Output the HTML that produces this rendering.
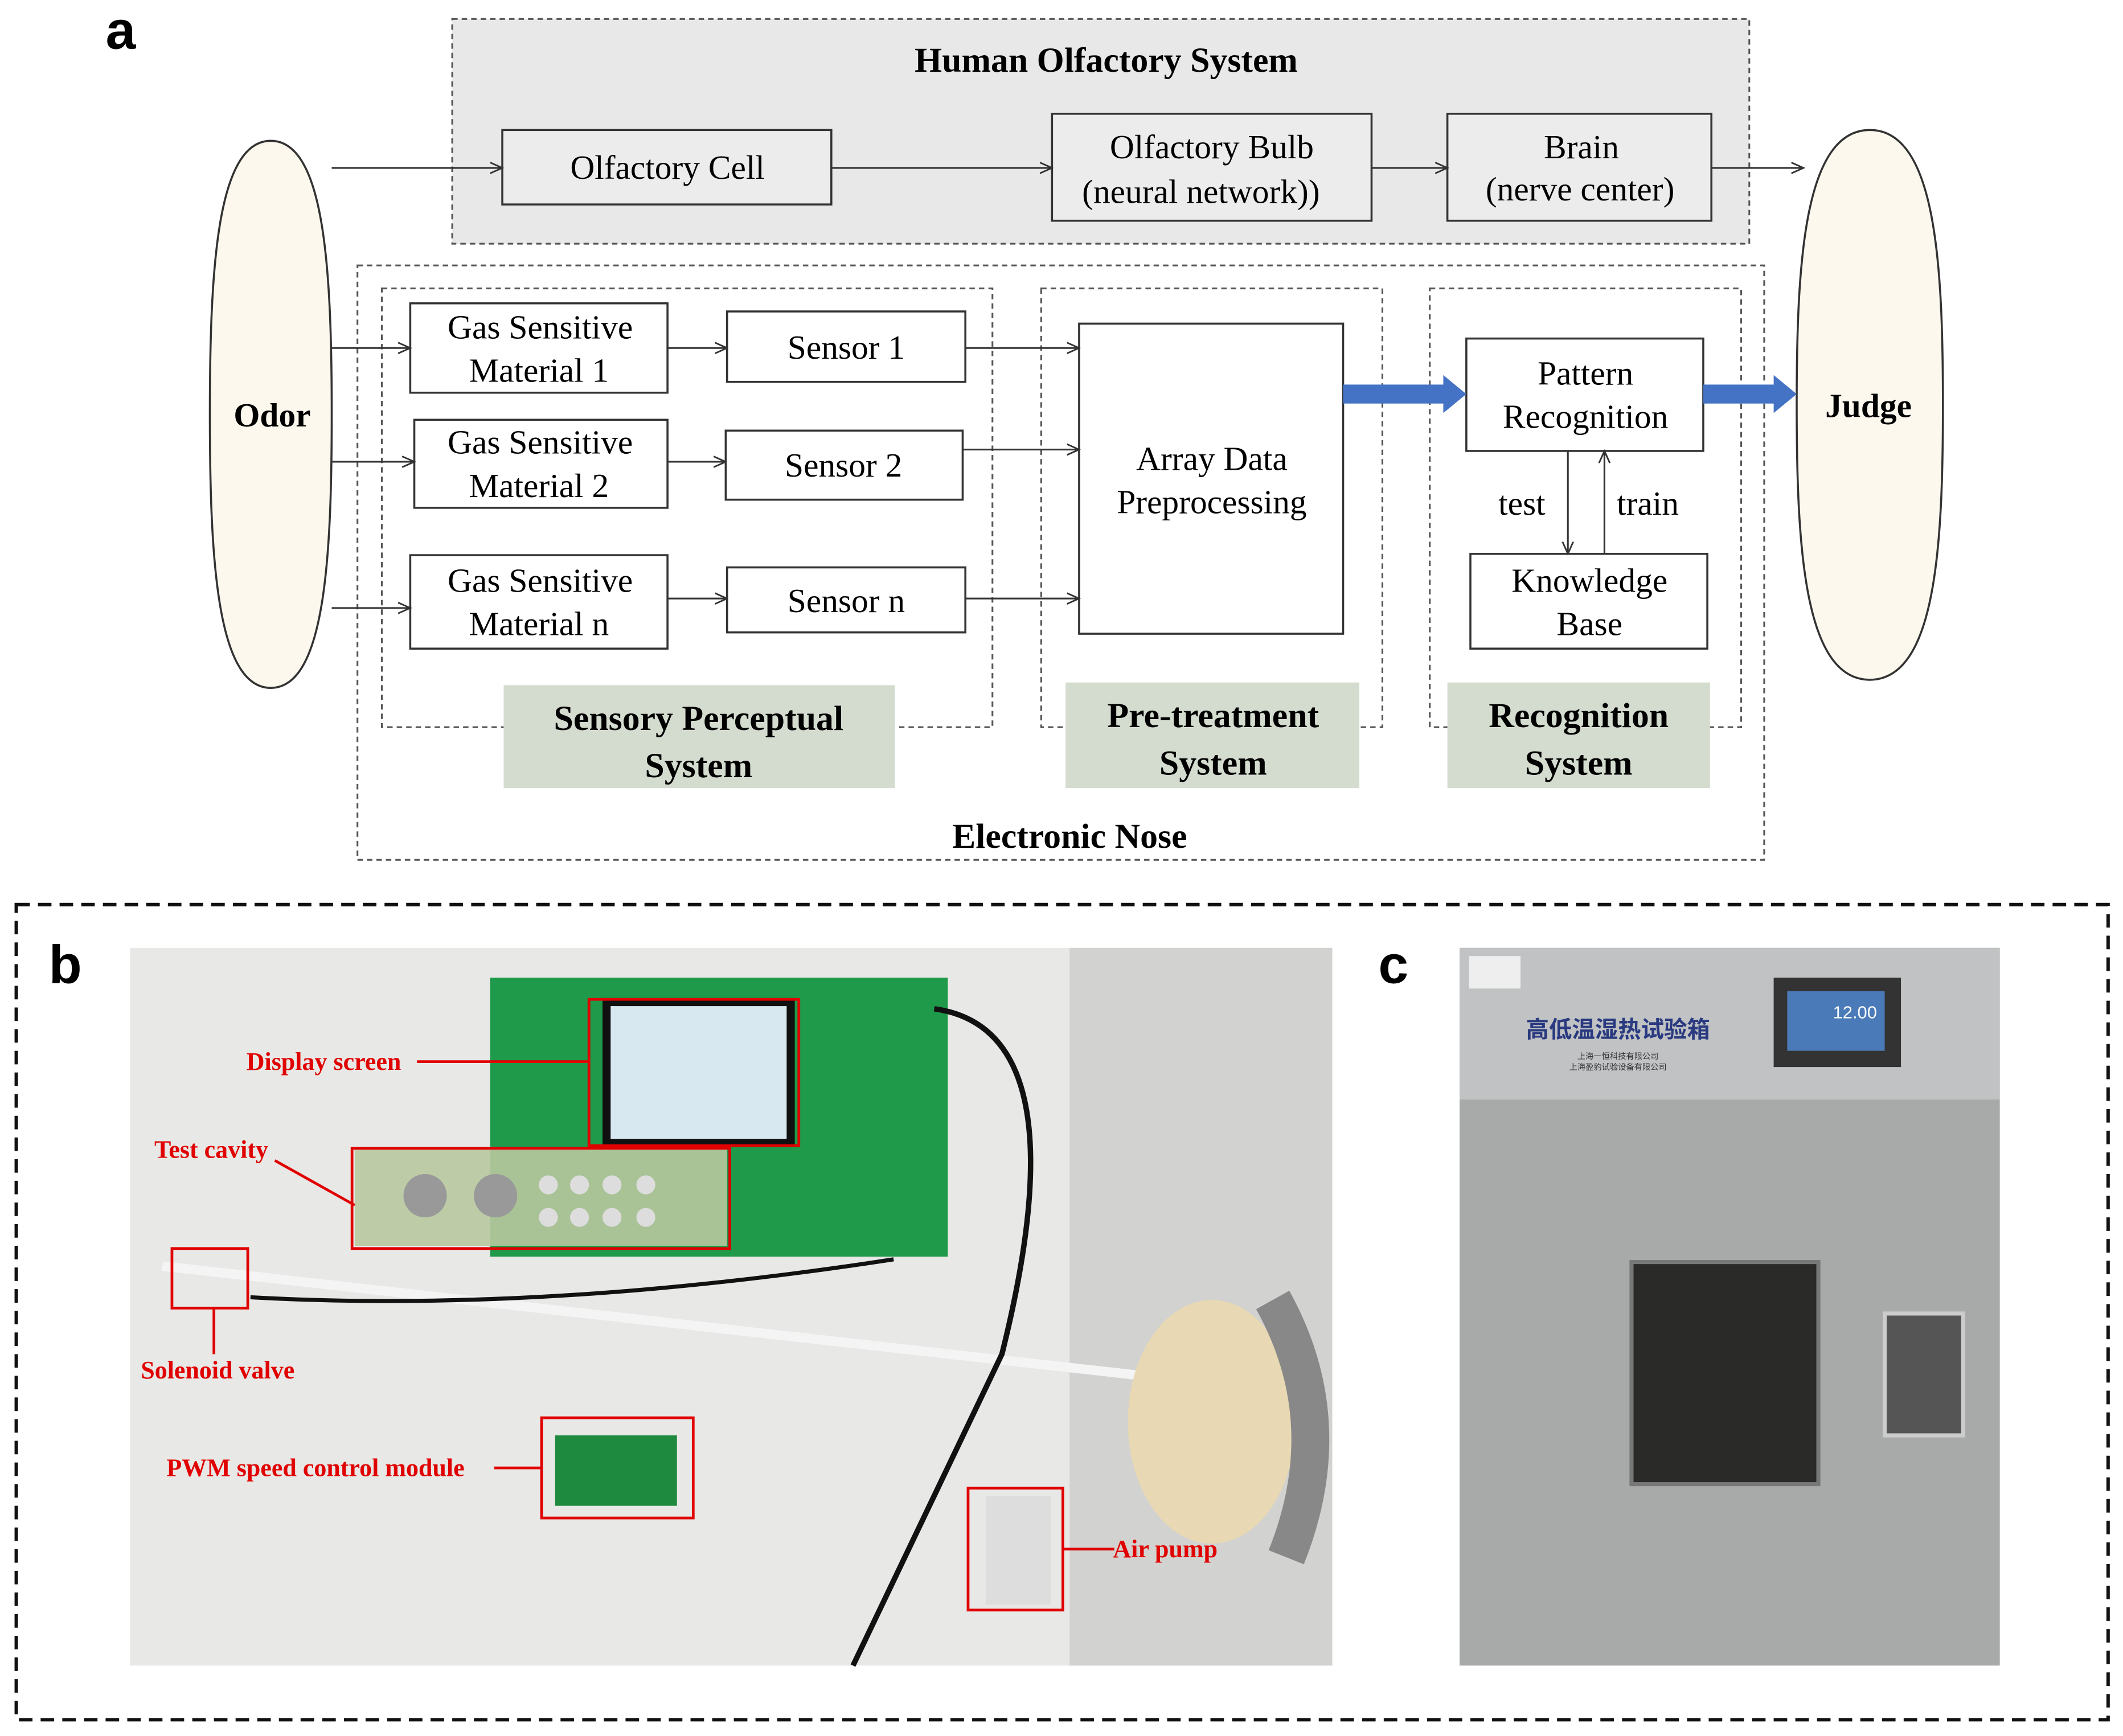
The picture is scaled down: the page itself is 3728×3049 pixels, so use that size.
<!DOCTYPE html>
<html><head><meta charset="utf-8"><style>
html,body{margin:0;padding:0;background:#fff}
svg{display:block}
.s{font-family:"Liberation Serif",serif}
.b{font-family:"Liberation Serif",serif;font-weight:bold}
.r{font-family:"Liberation Serif",serif;font-weight:bold;fill:#e00000;font-size:18.5px}
</style></head><body>
<svg width="3728" height="3049" viewBox="0 0 1568 1282" preserveAspectRatio="none" xmlns="http://www.w3.org/2000/svg">
<defs>
<marker id="a" markerWidth="10" markerHeight="10" refX="9" refY="5" orient="auto" markerUnits="userSpaceOnUse"><path d="M0,1 L9,5 L0,9" fill="none" stroke="#333" stroke-width="1.2"/></marker>
</defs>
<rect width="1568" height="1282" fill="#fff"/>
<text x="78" y="36" font-family="Liberation Sans,sans-serif" font-weight="bold" font-size="40">a</text>
<rect x="334" y="14" width="958" height="166" fill="#e8e8e8" stroke="#555" stroke-dasharray="4,3" stroke-width="1.3"/>
<text x="817" y="53" class="b" font-size="26" text-anchor="middle">Human Olfactory System</text>
<g fill="#ececec" stroke="#333" stroke-width="1.5">
<rect x="371" y="96" width="243" height="55"/>
<rect x="777" y="84" width="236" height="79"/>
<rect x="1069" y="84" width="195" height="79"/>
</g>
<g class="s" font-size="25" text-anchor="middle">
<text x="493" y="132">Olfactory Cell</text>
<text x="895" y="117">Olfactory Bulb</text><text x="887" y="150">(neural network))</text>
<text x="1168" y="117">Brain</text><text x="1167" y="148">(nerve center)</text>
</g>
<path d="M200,104 C160,104 155,200 155,306 C155,412 160,508 200,508 C240,508 245,412 245,306 C245,200 240,104 200,104Z" fill="#fcf8ee" stroke="#333" stroke-width="1.5"/>
<path d="M1381,96 C1332,96 1327,196 1327,299 C1327,402 1332,502 1381,502 C1430,502 1435,402 1435,299 C1435,196 1430,96 1381,96Z" fill="#fcf8ee" stroke="#333" stroke-width="1.5"/>
<text x="201" y="315" class="b" font-size="25" text-anchor="middle">Odor</text>
<text x="1380" y="308" class="b" font-size="25" text-anchor="middle">Judge</text>
<g fill="none" stroke="#555" stroke-dasharray="4,3" stroke-width="1.3">
<rect x="264" y="196" width="1039" height="439"/>
<rect x="282" y="213" width="451" height="324"/>
<rect x="769" y="213" width="252" height="324"/>
<rect x="1056" y="213" width="230" height="324"/>
</g>
<g fill="#fff" stroke="#333" stroke-width="1.5">
<rect x="303" y="224" width="190" height="66"/>
<rect x="306" y="310" width="187" height="65"/>
<rect x="303" y="410" width="190" height="69"/>
<rect x="537" y="230" width="176" height="52"/>
<rect x="536" y="318" width="175" height="51"/>
<rect x="537" y="419" width="176" height="48"/>
<rect x="797" y="239" width="195" height="229"/>
<rect x="1083" y="250" width="175" height="83"/>
<rect x="1086" y="409" width="175" height="70"/>
</g>
<g class="s" font-size="25" text-anchor="middle">
<text x="399" y="250">Gas Sensitive</text><text x="398" y="282">Material 1</text>
<text x="399" y="335">Gas Sensitive</text><text x="398" y="367">Material 2</text>
<text x="399" y="437">Gas Sensitive</text><text x="398" y="469">Material n</text>
<text x="625" y="265">Sensor 1</text>
<text x="623" y="352">Sensor 2</text>
<text x="625" y="452">Sensor n</text>
<text x="895" y="347">Array Data</text><text x="895" y="379">Preprocessing</text>
<text x="1171" y="284">Pattern</text><text x="1171" y="316">Recognition</text>
<text x="1174" y="437">Knowledge</text><text x="1174" y="469">Base</text>
<text x="1124" y="380">test</text><text x="1217" y="380">train</text>
</g>
<g fill="#d4dccf">
<rect x="372" y="506" width="289" height="76"/>
<rect x="787" y="504" width="217" height="78"/>
<rect x="1069" y="504" width="194" height="78"/>
</g>
<g class="b" font-size="26" text-anchor="middle">
<text x="516" y="539">Sensory Perceptual</text><text x="516" y="574">System</text>
<text x="896" y="537">Pre-treatment</text><text x="896" y="572">System</text>
<text x="1166" y="537">Recognition</text><text x="1166" y="572">System</text>
<text x="790" y="626">Electronic Nose</text>
</g>
<g stroke="#333" stroke-width="1.3" marker-end="url(#a)">
<line x1="245" y1="124" x2="371" y2="124"/>
<line x1="614" y1="124" x2="777" y2="124"/>
<line x1="1013" y1="124" x2="1069" y2="124"/>
<line x1="1264" y1="124" x2="1332" y2="124"/>
<line x1="245" y1="257" x2="303" y2="257"/>
<line x1="245" y1="341" x2="306" y2="341"/>
<line x1="245" y1="449" x2="303" y2="449"/>
<line x1="493" y1="257" x2="537" y2="257"/>
<line x1="493" y1="341" x2="536" y2="341"/>
<line x1="493" y1="442" x2="537" y2="442"/>
<line x1="713" y1="257" x2="797" y2="257"/>
<line x1="711" y1="332" x2="797" y2="332"/>
<line x1="713" y1="442" x2="797" y2="442"/>
<line x1="1158" y1="333" x2="1158" y2="409"/>
<line x1="1185" y1="409" x2="1185" y2="333"/>
</g>
<g fill="#4472c4">
<rect x="992" y="284" width="76" height="14"/><path d="M1066,277 L1083,291 L1066,305Z"/>
<rect x="1258" y="284" width="54" height="14"/><path d="M1310,277 L1327,291 L1310,305Z"/>
</g>
<rect x="12" y="668" width="1545" height="602" fill="none" stroke="#111" stroke-width="2.5" stroke-dasharray="10,6"/>
<text x="36" y="726" font-family="Liberation Sans,sans-serif" font-weight="bold" font-size="40">b</text>
<text x="1018" y="726" font-family="Liberation Sans,sans-serif" font-weight="bold" font-size="40">c</text>
<rect x="96" y="700" width="888" height="530" fill="#e8e8e6"/>
<rect x="790" y="700" width="194" height="530" fill="#d2d2d0"/>
<rect x="362" y="722" width="338" height="206" fill="#1e9a4a"/>
<rect x="448" y="740" width="136" height="104" fill="#d8e8f0" stroke="#111" stroke-width="6"/>
<rect x="262" y="848" width="275" height="72" fill="#b8c8a0" opacity="0.9"/>
<circle cx="314" cy="883" r="16" fill="#999"/><circle cx="366" cy="883" r="16" fill="#999"/>
<g fill="#ddd"><circle cx="405" cy="875" r="7"/><circle cx="428" cy="875" r="7"/><circle cx="452" cy="875" r="7"/><circle cx="477" cy="875" r="7"/><circle cx="405" cy="899" r="7"/><circle cx="428" cy="899" r="7"/><circle cx="452" cy="899" r="7"/><circle cx="477" cy="899" r="7"/></g>
<path d="M120,935 L880,1020" stroke="#f4f4f4" stroke-width="7"/>
<path d="M185,958 Q400,970 660,930" stroke="#111" stroke-width="3" fill="none"/>
<path d="M690,745 Q800,760 740,1000 L630,1230" stroke="#111" stroke-width="4" fill="none"/>
<ellipse cx="895" cy="1050" rx="62" ry="90" fill="#e8d8b4"/>
<path d="M940,960 Q990,1050 950,1150" stroke="#888" stroke-width="28" fill="none"/>
<rect x="410" y="1060" width="90" height="52" fill="#1e8a40"/>
<rect x="728" y="1105" width="48" height="80" fill="#ddd"/>
<g fill="none" stroke="#e00000" stroke-width="2">
<rect x="435" y="738" width="155" height="108"/>
<rect x="260" y="848" width="279" height="74"/>
<rect x="127" y="922" width="56" height="44"/>
<rect x="400" y="1047" width="112" height="74"/>
<rect x="715" y="1099" width="70" height="90"/>
<path d="M308,784 L435,784 M203,857 L262,890 M158,966 L158,1000 M365,1084 L400,1084 M785,1144 L823,1144"/>
</g>
<text x="182" y="790" class="r">Display screen</text>
<text x="114" y="855" class="r">Test cavity</text>
<text x="104" y="1018" class="r">Solenoid valve</text>
<text x="123" y="1090" class="r">PWM speed control module</text>
<text x="822" y="1150" class="r">Air pump</text>
<rect x="1078" y="700" width="399" height="530" fill="#a8aaa9"/>
<rect x="1078" y="700" width="399" height="112" fill="#c0c2c3"/>
<rect x="1085" y="706" width="38" height="24" fill="#eee"/>
<text x="1195" y="766" font-family="Liberation Sans,'Noto Sans CJK SC',sans-serif" font-weight="bold" font-size="17" fill="#2a3a80" text-anchor="middle">高低温湿热试验箱</text>
<text x="1195" y="782" font-family="'Noto Sans CJK SC',sans-serif" font-size="6" fill="#333" text-anchor="middle">上海一恒科技有限公司</text>
<text x="1195" y="790" font-family="'Noto Sans CJK SC',sans-serif" font-size="6" fill="#333" text-anchor="middle">上海盈豹试验设备有限公司</text>
<rect x="1310" y="722" width="94" height="66" fill="#333"/>
<rect x="1320" y="732" width="72" height="44" fill="#4a7ab8"/>
<text x="1370" y="752" font-family="Liberation Sans,sans-serif" font-size="13" fill="#fff" text-anchor="middle">12.00</text>
<rect x="1205" y="932" width="138" height="164" fill="#2a2a28" stroke="#777" stroke-width="3"/>
<rect x="1392" y="970" width="58" height="90" fill="#555" stroke="#ccc" stroke-width="3"/>
</svg>
</body></html>
